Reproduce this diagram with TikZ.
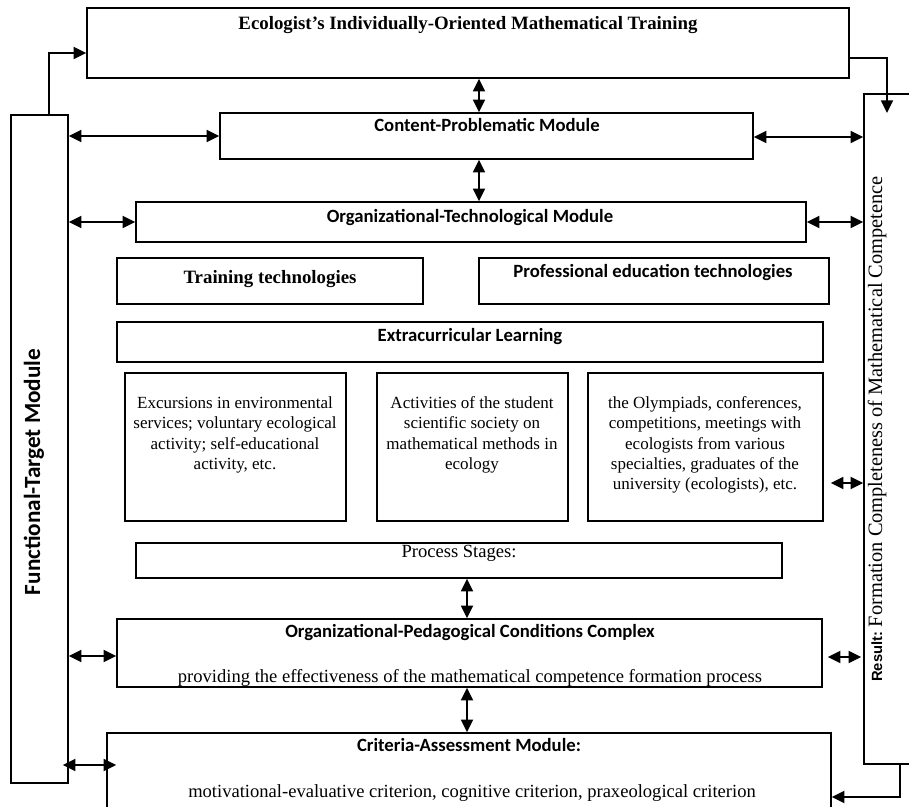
\documentclass[tikz,border=0pt]{standalone}
\usepackage{fontspec}
\setmainfont{Liberation Serif}
\newfontfamily\carlito{Carlito}
\newfontfamily\arialsans{Liberation Sans}
\usetikzlibrary{arrows.meta,calc,fit}

% font sizes used in the scheme
\newcommand{\titlefont}{\fontsize{13.4}{15}\selectfont\bfseries}
\newcommand{\headfont}{\carlito\fontsize{13.3}{15}\selectfont\bfseries}
\newcommand{\bodyfont}{\fontsize{13.2}{15}\selectfont}
\newcommand{\smallfont}{\fontsize{12.1}{14.5}\selectfont}

\begin{document}
\begin{tikzpicture}[x=0.025cm,y=-0.025cm,
    box/.style={draw,line width=1.1pt,inner sep=0pt},
    txt/.style={inner sep=0pt,align=center},
    link/.style={line width=1.4pt,-{Triangle[length=9pt,width=8.5pt]}},
    dlink/.style={line width=1.4pt,{Triangle[length=9pt,width=8.5pt]}-{Triangle[length=9pt,width=8.5pt]}}]
    \useasboundingbox (0,0) rectangle (909,807);

    % outer modules
    \node (top) [box, fit={(87,8) (849,78)}] {};
    \node (ftm) [box, fit={(11,115) (68,783)}] {};
    \node (res) [box, fit={(864,94) (940,764)}] {};
    \node (cam) [box, fit={(107,733) (831,830)}] {};

    % inner blocks
    \node (cpm) [box, fit={(220,113) (753,159)}] {};
    \node (otm) [box, fit={(136,202) (806,242)}] {};
    \node (trt) [box, fit={(117,258) (423,304)}] {};
    \node (pet) [box, fit={(479,258) (829,304)}] {};
    \node (ecl) [box, fit={(117,322) (823,362)}] {};
    \node (exc) [box, fit={(125,373) (346,521)}] {};
    \node (sss) [box, fit={(377,373) (568,521)}] {};
    \node (oly) [box, fit={(588,373) (823,521)}] {};
    \node (pst) [box, fit={(136,543) (782,578)}] {};
    \node (opc) [box, fit={(117,619) (822,687)}] {};

    % texts
    \node (top-t) [txt, font=\titlefont] at (468,25) {Ecologist’s Individually-Oriented Mathematical Training};
    \node (cpm-t) [txt, font=\headfont] at (487,125) {Content-Problematic Module};
    \node (otm-t) [txt, font=\headfont] at (470,218) {Organizational-Technological Module};
    \node (trt-t) [txt, font=\titlefont] at (270,279) {Training technologies};
    \node (pet-t) [txt, font=\headfont] at (653,273) {Professional education technologies};
    \node (ecl-t) [txt, font=\headfont] at (470,337) {Extracurricular Learning};
    \node (exc-t) [txt, font=\smallfont] at (235,435) {Excursions in environmental\\ services; voluntary ecological\\ activity; self-educational\\ activity, etc.};
    \node (sss-t) [txt, font=\smallfont] at (472,435) {Activities of the student\\ scientific society on\\ mathematical methods in\\ ecology};
    \node (oly-t) [txt, font=\smallfont] at (705,445) {the Olympiads, conferences,\\ competitions, meetings with\\ ecologists from various\\ specialties, graduates of the\\ university (ecologists), etc.};
    \node (pst-t) [txt, font=\bodyfont] at (459,553) {Process Stages:};
    \node (opc-t) [txt, font=\headfont] at (470,633) {Organizational-Pedagogical Conditions Complex};
    \node (opc-s) [txt, font=\bodyfont] at (470,678) {providing the effectiveness of the mathematical competence formation process};
    \node (cam-t) [txt, font=\headfont] at (469,745) {Criteria-Assessment Module:};
    \node (cam-s) [txt, font=\bodyfont] at (472,793) {motivational-evaluative criterion, cognitive criterion, praxeological criterion};
    \node (ftm-t) [txt, rotate=90, font=\carlito\fontsize{16.5}{18}\selectfont\bfseries] at (34,472) {Functional-Target Module};
    \node (res-t) [txt, rotate=90] at (877,429) {{\arialsans\bfseries\fontsize{10.5}{12}\selectfont Result:} {\fontsize{14.5}{16}\selectfont Formation Completeness of Mathematical Competence}};

    % feed lines
    \coordinate (restip) at (887,113);
    \draw[link] (ftm.north -| 49,0) |- (top.west |- 0,53);
    \draw[link] (top.east |- 0,58) -| (restip);
    \draw[link] (res.south -| 900,0) |- (cam.east |- 0,797);

    % horizontal links
    \draw[dlink] (ftm.east |- 0,136) -- (cpm.west |- 0,136);
    \draw[dlink] (cpm.east |- 0,137) -- (res.west |- 0,137);
    \draw[dlink] (ftm.east |- 0,222) -- (otm.west |- 0,222);
    \draw[dlink] (otm.east |- 0,222) -- (res.west |- 0,222);
    \draw[dlink] ($(oly.east |- 0,483)+(7,0)$) -- (res.west |- 0,483);
    \draw[dlink] (ftm.east |- 0,656) -- (opc.west |- 0,656);
    \draw[dlink] ($(opc.east |- 0,657)+(5,0)$) -- ($(res.west |- 0,657)+(-2,0)$);
    \draw[dlink] ($(ftm.east |- 0,765)+(-6,0)$) -- ($(cam.west |- 0,765)+(10,0)$);

    % vertical links
    \draw[dlink] (top.south -| 479,0) -- (cpm.north -| 479,0);
    \draw[dlink] (cpm.south -| 479,0) -- (otm.north -| 479,0);
    \draw[dlink] (pst.south -| 467,0) -- (opc.north -| 467,0);
    \draw[dlink] (opc.south -| 467,0) -- (cam.north -| 467,0);
\end{tikzpicture}
\end{document}
